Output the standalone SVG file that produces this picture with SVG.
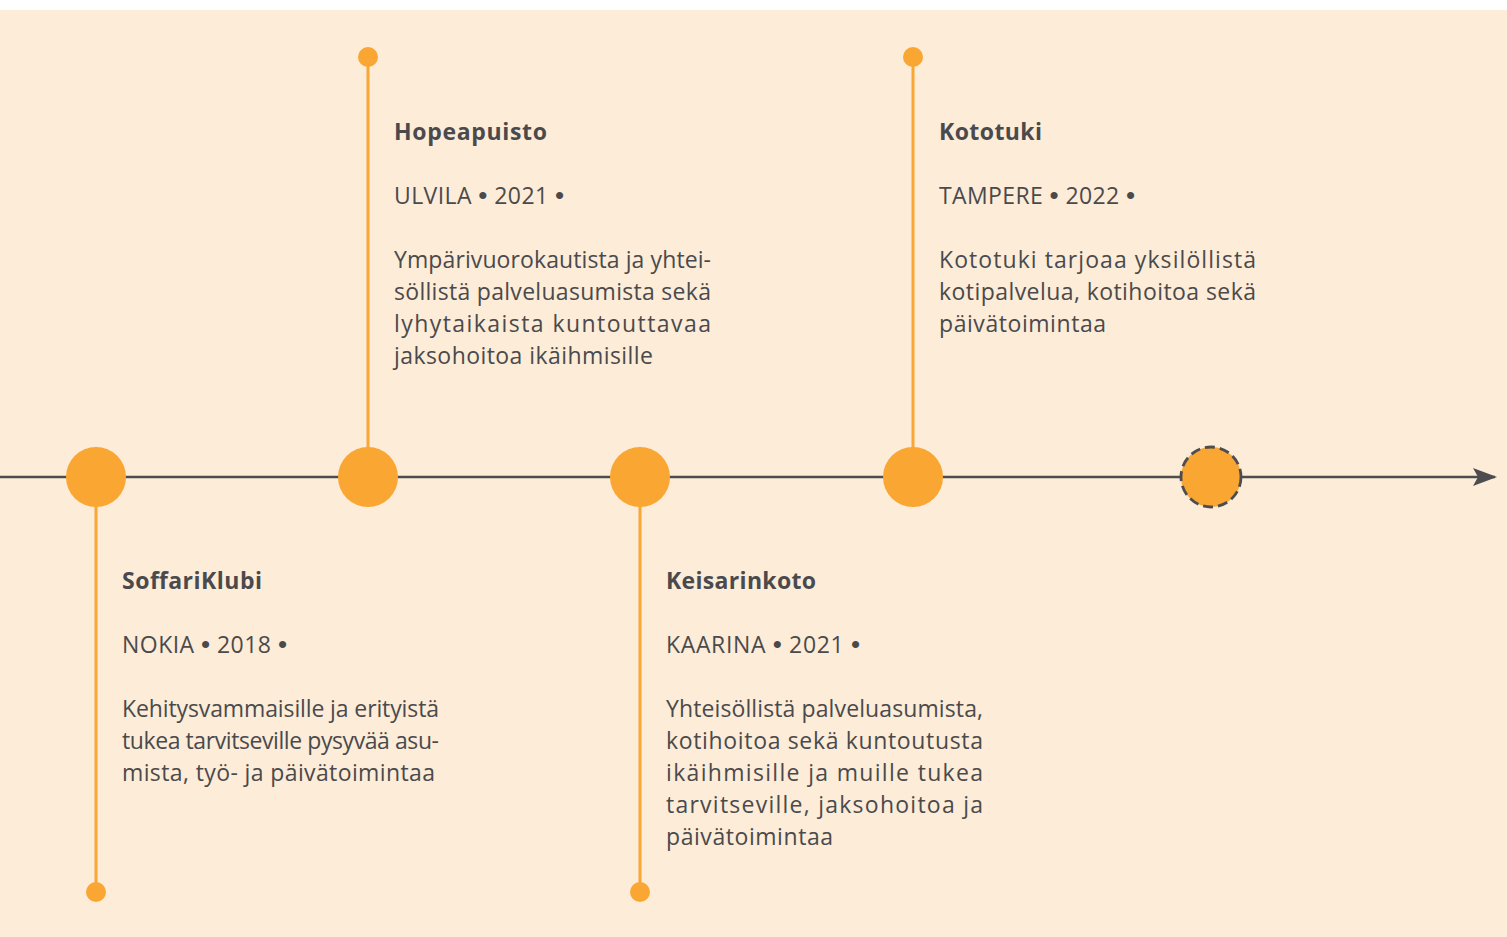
<svg xmlns="http://www.w3.org/2000/svg" width="1507" height="937" viewBox="0 0 1507 937">
<style>
.bg{fill:#fdecd8}
.stem{stroke:#f9a633;stroke-width:3;fill:none}
.dot{fill:#f9a633}
.axis{stroke:#4d4d4f;stroke-width:2.5;fill:none}
.t{font-family:"Open Sans","Noto Sans","Liberation Sans",sans-serif;fill:#4a4a4c;font-size:23px}
.b{font-weight:700}
.bu{font-family:"Liberation Sans",sans-serif;font-size:26px}
</style>
<defs>
<marker id="arr" viewBox="0 0 24 18" refX="22" refY="9" markerWidth="24" markerHeight="18" markerUnits="userSpaceOnUse" orient="auto">
<path d="M0,0 L24,9 L0,18 L5,9 Z" fill="#4d4d4f"/>
</marker>
</defs>
<rect x="0" y="0" width="1507" height="937" fill="#ffffff"/>
<rect class="bg" x="0" y="10" width="1507" height="927"/>
<g id="connectors">
<line class="axis" x1="0" y1="477" x2="1495" y2="477" marker-end="url(#arr)"/>
<line class="stem" x1="96" y1="477" x2="96" y2="892"/>
<line class="stem" x1="368" y1="57" x2="368" y2="477"/>
<line class="stem" x1="640" y1="477" x2="640" y2="892"/>
<line class="stem" x1="913" y1="57" x2="913" y2="477"/>
</g>
<g id="soffariklubi">
<circle class="dot" cx="96" cy="477" r="30"/>
<circle class="dot" cx="96" cy="892" r="10"/>
<text class="t b" x="122" y="589" textLength="140">SoffariKlubi</text>
<text class="t" x="122" y="653" textLength="165">NOKIA <tspan class="bu">•</tspan> 2018 <tspan class="bu">•</tspan></text>
<text class="t" x="122" y="717" textLength="317">Kehitysvammaisille ja erityistä</text>
<text class="t" x="122" y="749" textLength="317">tukea tarvitseville pysyvää asu-</text>
<text class="t" x="122" y="781" textLength="313">mista, työ- ja päivätoimintaa</text>
</g>
<g id="hopeapuisto">
<circle class="dot" cx="368" cy="477" r="30"/>
<circle class="dot" cx="368" cy="57" r="10"/>
<text class="t b" x="394" y="140" textLength="153">Hopeapuisto</text>
<text class="t" x="394" y="204" textLength="170">ULVILA <tspan class="bu">•</tspan> 2021 <tspan class="bu">•</tspan></text>
<text class="t" x="394" y="268" textLength="317">Ympärivuorokautista ja yhtei-</text>
<text class="t" x="394" y="300" textLength="317">söllistä palveluasumista sekä</text>
<text class="t" x="394" y="332" textLength="317">lyhytaikaista kuntouttavaa</text>
<text class="t" x="394" y="364" textLength="259">jaksohoitoa ikäihmisille</text>
</g>
<g id="keisarinkoto">
<circle class="dot" cx="640" cy="477" r="30"/>
<circle class="dot" cx="640" cy="892" r="10"/>
<text class="t b" x="666" y="589" textLength="150">Keisarinkoto</text>
<text class="t" x="666" y="653" textLength="194">KAARINA <tspan class="bu">•</tspan> 2021 <tspan class="bu">•</tspan></text>
<text class="t" x="666" y="717" textLength="317">Yhteisöllistä palveluasumista,</text>
<text class="t" x="666" y="749" textLength="317">kotihoitoa sekä kuntoutusta</text>
<text class="t" x="666" y="781" textLength="317">ikäihmisille ja muille tukea</text>
<text class="t" x="666" y="813" textLength="317">tarvitseville, jaksohoitoa ja</text>
<text class="t" x="666" y="845" textLength="167">päivätoimintaa</text>
</g>
<g id="kototuki">
<circle class="dot" cx="913" cy="477" r="30"/>
<circle class="dot" cx="913" cy="57" r="10"/>
<text class="t b" x="939" y="140" textLength="103">Kototuki</text>
<text class="t" x="939" y="204" textLength="196">TAMPERE <tspan class="bu">•</tspan> 2022 <tspan class="bu">•</tspan></text>
<text class="t" x="939" y="268" textLength="317">Kototuki tarjoaa yksilöllistä</text>
<text class="t" x="939" y="300" textLength="317">kotipalvelua, kotihoitoa sekä</text>
<text class="t" x="939" y="332" textLength="167">päivätoimintaa</text>
</g>
<g id="future">
<circle cx="1211" cy="477" r="30" fill="#f9a633" stroke="#4d4d4f" stroke-width="2.8" stroke-dasharray="10,5"/>
</g>
</svg>
